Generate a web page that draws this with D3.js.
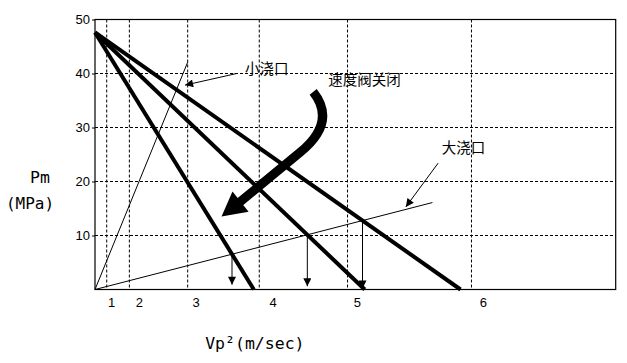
<!DOCTYPE html>
<html lang="zh">
<head>
<meta charset="UTF-8">
<title>Pm - Vp2</title>
<script src="https://d3js.org/d3.v7.min.js"></script>
<style>
  body { margin: 0; background: white; }
  .grid { stroke: black; stroke-width: 1; stroke-dasharray: 3,2; }
  .cn { font-family: "Noto Sans CJK SC", sans-serif; font-size: 14.5px; }
</style>
</head>
<body>
<div id="chart"></div>
<script>
// ---- data ----
var yTicks = [10, 20, 30, 40, 50];
var gridX = [2.25, 6.6, 17.8, 31.55, 48.5, 72.3];        // dashed verticals
var xLabels = ["1", "2", "3", "4", "5", "6"];
var xLabelPos = [3.2, 8.5, 19.4, 34.2, 50.4, 74.6];

// thick lines: start (x0,y0) -> end on the axis (x1, 0)
var lineStart = [0, 47.6];
var lineEnds = [30.5, 51.8, 70.2];

// thin lines from the origin
var smallGate = [[0, 0], [17.8, 42.1]];   // 小浇口
var bigGate = [[0, 0], [64.8, 16.1]];     // 大浇口

// tips of the vertical arrows (y value just above the axis)
var dropTips = [0.9, 0.6, 0.2];

// labels + pointer arrows
var notes = [
  { text: "小浇口", x: 28.8, y: 40.8, from: [27.2, 40.0], to: [17.3, 37.85] },
  { text: "大浇口", x: 66.6, y: 26.3, from: [65.9, 23.4], to: [59.7, 15.3] },
  { text: "速度阀关闭", x: 44.8, y: 38.9, from: null, to: null }
];

// big curved arrow
var bigArrow = {
  start: [41.9, 36.6], ctrl: [46.5, 31.0], bend: [39.4, 25.4],
  base: [27.65, 16.05], tip: [24.3, 13.5]
};

// ---- layout ----
var margin = {top: 19.5, right: 11.3, bottom: 73.5, left: 95},
    width = 627 - margin.left - margin.right,
    height = 363 - margin.top - margin.bottom;

var svgRoot = d3.select("#chart").append("svg")
    .attr("width", 627).attr("height", 363);

var defs = svgRoot.append("defs");
defs.append("marker")
    .attr("id", "head")
    .attr("markerUnits", "userSpaceOnUse")
    .attr("viewBox", "0 0 10 10")
    .attr("refX", 10).attr("refY", 5)
    .attr("markerWidth", 9).attr("markerHeight", 8)
    .attr("orient", "auto")
  .append("path")
    .attr("d", "M0,0L10,5L0,10Z")
    .attr("fill", "black");

var svg = svgRoot.append("g")
    .attr("transform", "translate(" + margin.left + "," + margin.top + ")");

var x = d3.scaleLinear().domain([0, 100]).range([0, width]);
var y = d3.scaleLinear().domain([0, 50]).range([height, 0]);

// grid
svg.selectAll(".hg").data(yTicks.filter(function(d) { return d < 50; }))
  .enter().append("line")
    .attr("class", "grid")
    .attr("x1", 0).attr("x2", width)
    .attr("y1", function(d) { return y(d); })
    .attr("y2", function(d) { return y(d); });

svg.selectAll(".vg").data(gridX)
  .enter().append("line")
    .attr("class", "grid")
    .attr("x1", function(d) { return x(d); })
    .attr("x2", function(d) { return x(d); })
    .attr("y1", 0).attr("y2", height);

// frame
svg.append("rect")
    .attr("width", width).attr("height", height)
    .attr("fill", "none").attr("stroke", "black").attr("stroke-width", 1.2);

// y axis
var yAxis = svg.append("g")
    .call(d3.axisLeft(y).tickValues(yTicks).tickSize(3).tickPadding(2));
yAxis.select(".domain").remove();
yAxis.selectAll("text")
    .style("font-family", "'Liberation Sans', Arial, sans-serif")
    .style("font-size", "13px");

// x labels
svg.selectAll(".xl").data(xLabels)
  .enter().append("text")
    .attr("x", function(d, i) { return x(xLabelPos[i]); })
    .attr("y", height + 17)
    .attr("text-anchor", "middle")
    .style("font-family", "'Liberation Sans', Arial, sans-serif")
    .style("font-size", "13px")
    .text(function(d) { return d; });

// axis titles
svg.append("text")
    .attr("x", -55).attr("y", 163)
    .attr("text-anchor", "middle")
    .style("font-family", "'DejaVu Sans Mono', monospace")
    .style("font-size", "16.5px")
    .text("Pm");
svg.append("text")
    .attr("x", -65).attr("y", 189)
    .attr("text-anchor", "middle")
    .style("font-family", "'DejaVu Sans Mono', monospace")
    .style("font-size", "16px")
    .text("(MPa)");
svg.append("text")
    .attr("x", x(30.7)).attr("y", height + 59)
    .attr("text-anchor", "middle")
    .style("font-family", "'DejaVu Sans Mono', monospace")
    .style("font-size", "16.5px")
    .text("Vp²(m/sec)");

// thin lines
var line = d3.line().x(function(d) { return x(d[0]); }).y(function(d) { return y(d[1]); });
[smallGate, bigGate].forEach(function(pts) {
  svg.append("path").attr("d", line(pts))
      .attr("fill", "none").attr("stroke", "black").attr("stroke-width", 1);
});

// thick lines
svg.selectAll(".thick").data(lineEnds)
  .enter().append("path")
    .attr("d", function(d) { return line([lineStart, [d, 0]]); })
    .attr("fill", "none").attr("stroke", "black").attr("stroke-width", 4);

// vertical arrows where the thick lines meet the 大浇口 line
var gSlope = bigGate[1][1] / bigGate[1][0];
lineEnds.forEach(function(e, i) {
  var m = -lineStart[1] / e;
  var xi = lineStart[1] / (gSlope - m);
  var yi = gSlope * xi;
  svg.append("line")
      .attr("x1", x(xi)).attr("x2", x(xi))
      .attr("y1", y(yi)).attr("y2", y(dropTips[i]))
      .attr("stroke", "black").attr("stroke-width", 1)
      .attr("marker-end", "url(#head)");
});

// notes
notes.forEach(function(n) {
  svg.append("text")
      .attr("class", "cn")
      .attr("x", x(n.x)).attr("y", y(n.y))
      .attr("dy", "0.35em")
      .text(n.text);
  if (n.from) {
    svg.append("line")
        .attr("x1", x(n.from[0])).attr("y1", y(n.from[1]))
        .attr("x2", x(n.to[0])).attr("y2", y(n.to[1]))
        .attr("stroke", "black").attr("stroke-width", 1)
        .attr("marker-end", "url(#head)");
  }
});

// big curved arrow
var p = d3.path();
p.moveTo(x(bigArrow.start[0]), y(bigArrow.start[1]));
p.quadraticCurveTo(x(bigArrow.ctrl[0]), y(bigArrow.ctrl[1]),
                   x(bigArrow.bend[0]), y(bigArrow.bend[1]));
p.lineTo(x(bigArrow.base[0]), y(bigArrow.base[1]));
svg.append("path").attr("d", p.toString())
    .attr("fill", "none").attr("stroke", "black").attr("stroke-width", 9);

var bx = x(bigArrow.base[0]), by = y(bigArrow.base[1]);
var tx = x(bigArrow.tip[0]), ty = y(bigArrow.tip[1]);
var dx = tx - bx, dy = ty - by, len = Math.sqrt(dx * dx + dy * dy);
var px = -dy / len * 13, py = dx / len * 13;
var bbx = bx - dx / len * 2, bby = by - dy / len * 2;
svg.append("path")
    .attr("d", "M" + tx + "," + ty +
               "L" + (bbx + px) + "," + (bby + py) +
               "L" + (bbx - px) + "," + (bby - py) + "Z")
    .attr("fill", "black");
</script>
</body>
</html>
